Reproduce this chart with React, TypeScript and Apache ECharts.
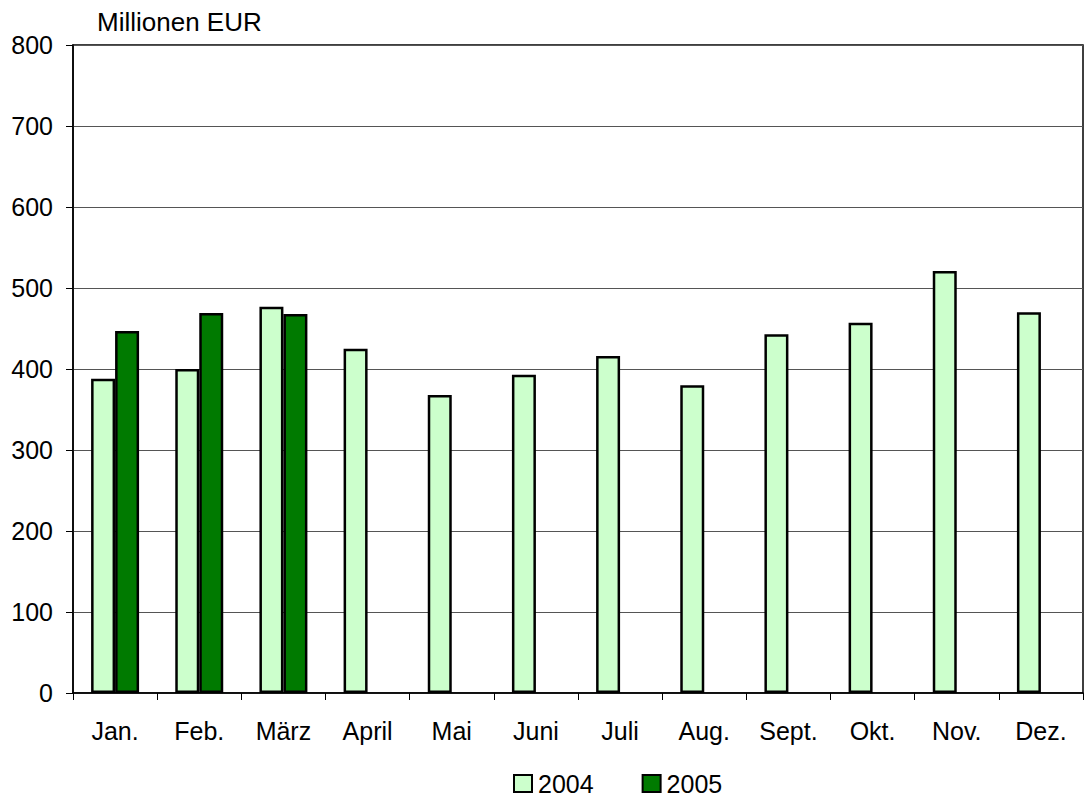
import React, { useEffect, useRef } from "react";
import * as echarts from "echarts";

const categories = ["Jan.", "Feb.", "März", "April", "Mai", "Juni", "Juli", "Aug.", "Sept.", "Okt.", "Nov.", "Dez."];
const values2004 = [388, 400, 477, 425, 368, 393, 416, 380, 443, 457, 521, 470];
const values2005: (number | null)[] = [447, 469, 468, null, null, null, null, null, null, null, null, null];
const yTicks = [0, 100, 200, 300, 400, 500, 600, 700, 800];

const FONT = "Liberation Sans, Arial, sans-serif";
const FS = 25;

export default function App() {
  const ref = useRef<HTMLDivElement>(null);
  useEffect(() => {
    if (!ref.current) return;
    const chart = echarts.init(ref.current, undefined, { renderer: "svg" });
    chart.setOption({
      animation: false,
      backgroundColor: "#ffffff",
      textStyle: { fontFamily: FONT },
      title: {
        text: "Millionen EUR",
        left: 97,
        top: 9,
        padding: 0,
        textStyle: { fontSize: 26, fontWeight: "normal", color: "#000", fontFamily: FONT },
      },
      legend: {
        left: 513,
        top: 771,
        padding: 0,
        itemWidth: 18,
        itemHeight: 17,
        itemGap: 48,
        icon: "rect",
        textStyle: { fontSize: FS, color: "#000", fontFamily: FONT, padding: [0, 0, 0, 1] },
        data: ["2004", "2005"],
      },
      grid: {
        left: 73,
        right: 8,
        top: 45,
        bottom: 103,
        show: true,
        borderColor: "#000",
        borderWidth: 1.5,
      },
      xAxis: {
        type: "category",
        data: categories,
        boundaryGap: true,
        axisLine: { lineStyle: { color: "#000", width: 1.5 } },
        axisTick: { show: true, inside: false, length: 7, lineStyle: { color: "#000" }, alignWithLabel: false },
        axisLabel: { fontSize: FS, color: "#000", margin: 25, fontFamily: FONT },
      },
      yAxis: {
        type: "value",
        min: yTicks[0],
        max: yTicks[yTicks.length - 1],
        interval: 100,
        axisLine: { show: true, lineStyle: { color: "#000", width: 1.5 } },
        axisTick: { show: true, inside: false, length: 7, lineStyle: { color: "#000" } },
        axisLabel: { fontSize: FS, color: "#000", margin: 20, fontFamily: FONT },
        splitLine: { show: true, lineStyle: { color: "#555", width: 1 } },
      },
      series: [
        {
          name: "2004",
          type: "bar",
          data: values2004,
          barGap: "0%",
          barCategoryGap: "43%",
          itemStyle: { color: "#ccffcc", borderColor: "#000", borderWidth: 2.5 },
        },
        {
          name: "2005",
          type: "bar",
          data: values2005,
          barGap: "0%",
          barCategoryGap: "43%",
          itemStyle: { color: "#007a00", borderColor: "#000", borderWidth: 2.5 },
        },
      ],
    });
    return () => chart.dispose();
  }, []);
  return (
    <div
      ref={ref}
      style={{ position: "fixed", left: 0, top: 0, width: 1091, height: 796 }}
    />
  );
}
